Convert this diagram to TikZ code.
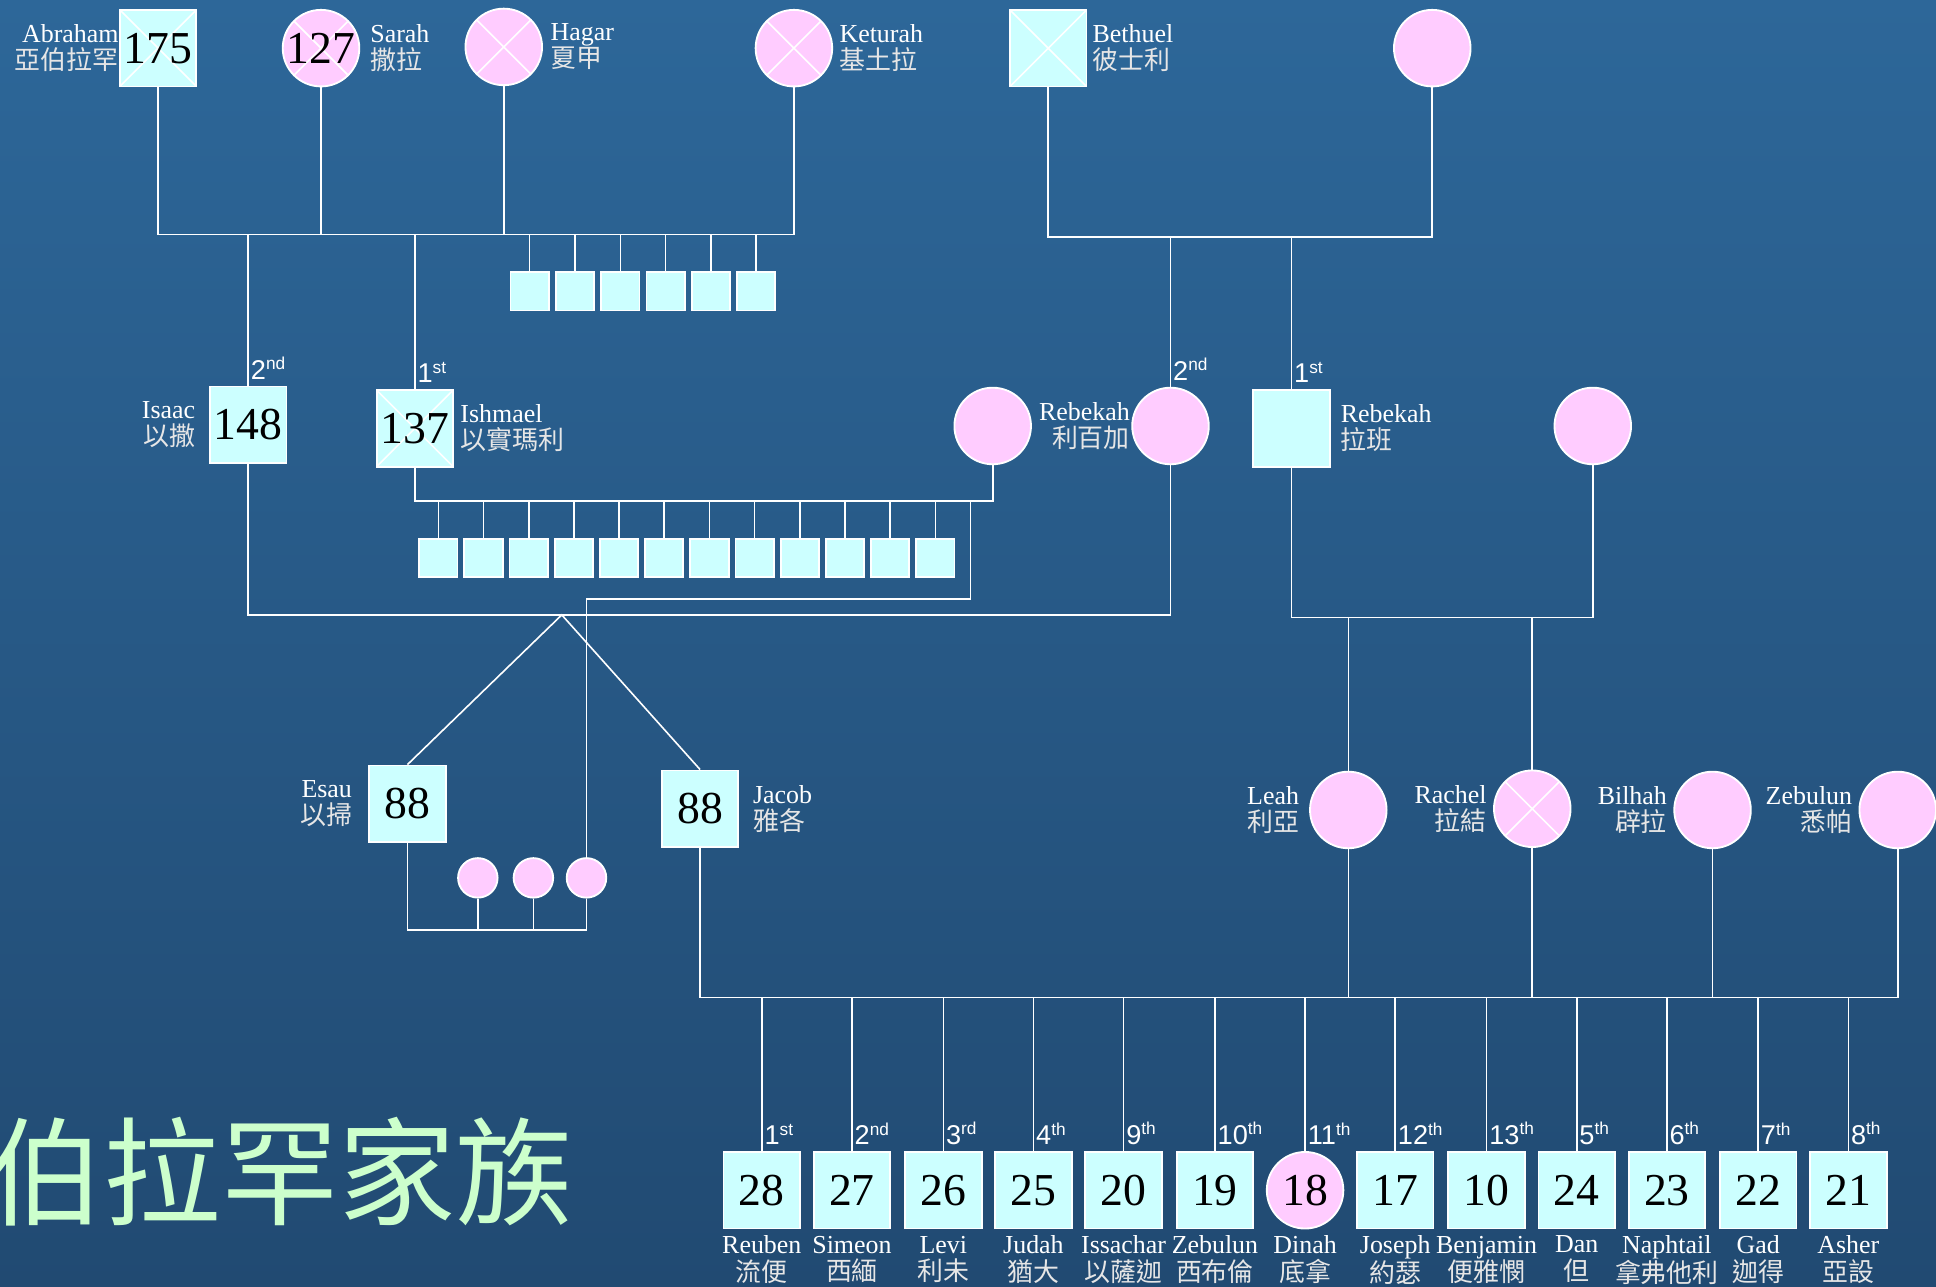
\documentclass[tikz,border=0pt]{standalone}
\usepackage{fontspec}
\setmainfont{Liberation Serif}
\newfontfamily\cjk{Noto Sans CJK TC}
\newfontfamily\ordsans{Liberation Sans}
\usetikzlibrary{positioning}
\definecolor{bgtop}{HTML}{2D6799}
\definecolor{bgbot}{HTML}{214A72}
\definecolor{boxc}{HTML}{CCFFFF}
\definecolor{pinkc}{HTML}{FFCCFF}
\definecolor{titlec}{HTML}{CCFFCC}
\definecolor{cjkgray}{HTML}{E6E6E6}
\newcommand{\pname}[2]{#1\\{\cjk\color{cjkgray}#2}}
\newcommand{\ordn}[2]{#1\raisebox{0.35em}{\fontsize{14}{14}\selectfont#2}}

\begin{document}
\begin{tikzpicture}[x=1pt,y=-1pt,
    male/.style={draw=white,line width=1.5pt,fill=boxc,minimum size=62pt,inner sep=0pt,font=\fontsize{37}{37}\selectfont},
    female/.style={male,circle,fill=pinkc},
    dead/.style={path picture={\draw[white,line width=1.3pt] (path picture bounding box.north west) -- (path picture bounding box.south east) (path picture bounding box.north east) -- (path picture bounding box.south west);}},
    kid/.style={male,minimum size=31pt},
    wife/.style={female,minimum size=32pt},
    kin/.style={white,line width=1.3pt},
    who/.style={text=white,inner sep=0pt,font=\fontsize{21}{22}\selectfont},
    ord/.style={text=white,inner sep=0pt,anchor=south west,xshift=2pt,font=\ordsans\fontsize{22}{22}\selectfont},
    label distance=5pt]
  \useasboundingbox (0,0) rectangle (1568,1042);
  \shade[top color=bgtop,bottom color=bgbot] (0,0) rectangle (1568,1042);

  % Abraham, his wives, Bethuel
  \node[male,dead,label={[who,align=right,xshift=5pt]left:\pname{Abraham}{亞伯拉罕}}] (abr) at (128,39) {175};
  \node[female,dead,label={[who,align=left,xshift=3pt]right:\pname{Sarah}{撒拉}}] (sar) at (260,39) {127};
  \node[female,dead,label={[who,align=left,xshift=1pt]right:\pname{Hagar}{夏甲}}] (hag) at (408,38) {};
  \node[female,dead,label={[who,align=left]right:\pname{Keturah}{基土拉}}] (ket) at (643,39) {};
  \node[male,dead,label={[who,align=left,xshift=-1pt]right:\pname{Bethuel}{彼士利}}] (bet) at (849,39) {};
  \node[female] (betw) at (1160,39) {};

  % second generation
  \node[male,label={[who,align=right,xshift=-6pt]left:\pname{Isaac}{以撒}},label={[ord]above:\ordn{2}{nd}}] (isa) at (201,344) {148};
  \node[male,dead,label={[who,align=left]right:\pname{Ishmael}{以實瑪利}},label={[ord]above:\ordn{1}{st}}] (ish) at (336,347) {137};
  \node[female] (ishw) at (804,345) {};
  \node[female,label={[who,align=right,xshift=4pt]left:\pname{Rebekah}{利百加}},label={[ord]above:\ordn{2}{nd}}] (reb) at (948,345) {};
  \node[male,label={[who,align=left,xshift=3pt]right:\pname{Rebekah}{拉班}},label={[ord]above:\ordn{1}{st}}] (lab) at (1046,347) {};
  \node[female] (labw) at (1290,345) {};
  \foreach \i in {1,...,6}
    \node[kid] (k\i) at ({429+36.7*(\i-1)},236) {};
  \foreach \i in {1,...,12}
    \node[kid] (j\i) at ({355+36.6*(\i-1)},452) {};

  % Esau, Jacob and their wives
  \node[male,label={[who,align=right,xshift=-8pt]left:\pname{Esau}{以掃}}] (esau) at (330,651) {88};
  \node[male,label={[who,align=left,xshift=6pt]right:\pname{Jacob}{雅各}}] (jac) at (567,655) {88};
  \node[wife] (ew1) at (387,711) {};
  \node[wife] (ew2) at (432,711) {};
  \node[wife] (ew3) at (475,711) {};
  \node[female,label={[who,align=right,xshift=-3pt]left:\pname{Leah}{利亞}}] (leah) at (1092,656) {};
  \node[female,dead,label={[who,align=right]left:\pname{Rachel}{拉結}}] (rach) at (1241,655) {};
  \node[female,label={[who,align=right]left:\pname{Bilhah}{辟拉}}] (bil) at (1387,656) {};
  \node[female,label={[who,align=right]left:\pname{Zebulun}{悉帕}}] (zil) at (1537,656) {};

  % Jacob's children
  \node[male,label={[ord]above:\ordn{1}{st}},label={[who,align=center]below:\pname{Reuben}{流便}}] (c1) at (617,964) {28};
  \node[male,label={[ord]above:\ordn{2}{nd}},label={[who,align=center]below:\pname{Simeon}{西緬}}] (c2) at (690,964) {27};
  \node[male,label={[ord]above:\ordn{3}{rd}},label={[who,align=center]below:\pname{Levi}{利未}}] (c3) at (764,964) {26};
  \node[male,label={[ord]above:\ordn{4}{th}},label={[who,align=center]below:\pname{Judah}{猶大}}] (c4) at (837,964) {25};
  \node[male,label={[ord]above:\ordn{9}{th}},label={[who,align=center]below:\pname{Issachar}{以薩迦}}] (c5) at (910,964) {20};
  \node[male,label={[ord]above:\ordn{10}{th}},label={[who,align=center]below:\pname{Zebulun}{西布倫}}] (c6) at (984,964) {19};
  \node[female,label={[ord]above:\ordn{11}{th}},label={[who,align=center]below:\pname{Dinah}{底拿}}] (c7) at (1057,964) {18};
  \node[male,label={[ord]above:\ordn{12}{th}},label={[who,align=center]below:\pname{Joseph}{約瑟}}] (c8) at (1130,964) {17};
  \node[male,label={[ord]above:\ordn{13}{th}},label={[who,align=center]below:\pname{Benjamin}{便雅憫}}] (c9) at (1204,964) {10};
  \node[male,label={[ord]above:\ordn{5}{th}},label={[who,align=center]below:\pname{Dan}{但}}] (c10) at (1277,964) {24};
  \node[male,label={[ord]above:\ordn{6}{th}},label={[who,align=center]below:\pname{Naphtail}{拿弗他利}}] (c11) at (1350,964) {23};
  \node[male,label={[ord]above:\ordn{7}{th}},label={[who,align=center]below:\pname{Gad}{迦得}}] (c12) at (1424,964) {22};
  \node[male,label={[ord]above:\ordn{8}{th}},label={[who,align=center]below:\pname{Asher}{亞設}}] (c13) at (1497,964) {21};

  \node[anchor=base west,inner sep=0pt,text=titlec,font=\cjk\fontsize{95}{95}\selectfont] (title) at (-11,985) {伯拉罕家族};

  % Abraham's lines
  \coordinate (busA) at (0,190);
  \draw[kin] (abr.south) -- (abr.south |- busA) -- (ket.south |- busA) -- (ket.south);
  \draw[kin] (sar.south) -- (sar.south |- busA);
  \draw[kin] (hag.south) -- (hag.south |- busA);
  \draw[kin] (isa.north) -- (isa.north |- busA);
  \draw[kin] (ish.north) -- (ish.north |- busA);
  \foreach \i in {1,...,6}
    \draw[kin] (k\i.north) -- (k\i.north |- busA);

  % Bethuel's lines
  \coordinate (busB) at (0,192);
  \draw[kin] (bet.south) -- (bet.south |- busB) -- (betw.south |- busB) -- (betw.south);
  \draw[kin] (reb.north) -- (reb.north |- busB);
  \draw[kin] (lab.north) -- (lab.north |- busB);

  % Ishmael's lines
  \coordinate (busI) at (0,406);
  \draw[kin] (ish.south) -- (ish.south |- busI) -- (ishw.south |- busI) -- (ishw.south);
  \foreach \i in {1,...,12}
    \draw[kin] (j\i.north) -- (j\i.north |- busI);
  \coordinate (dau) at (786,406);
  \coordinate (dauknee) at (786,485);
  \draw[kin] (dau) -- (dauknee) -| (ew3.north);

  % Isaac's lines
  \coordinate (busC) at (0,498);
  \draw[kin] (isa.south) -- (isa.south |- busC) -- (reb.south |- busC) -- (reb.south);
  \coordinate (fork) at (455,498);
  \draw[kin] (esau.north) -- (fork) -- (jac.north);

  % Esau's lines
  \coordinate (busE) at (0,753);
  \draw[kin] (esau.south) -- (esau.south |- busE) -- (ew3.south |- busE) -- (ew3.south);
  \draw[kin] (ew1.south) -- (ew1.south |- busE);
  \draw[kin] (ew2.south) -- (ew2.south |- busE);

  % Laban's lines
  \coordinate (busL) at (0,500);
  \draw[kin] (lab.south) -- (lab.south |- busL) -- (labw.south |- busL) -- (labw.south);
  \draw[kin] (leah.north) -- (leah.north |- busL);
  \draw[kin] (rach.north) -- (rach.north |- busL);

  % Jacob's lines
  \coordinate (busJ) at (0,808);
  \draw[kin] (jac.south) -- (jac.south |- busJ) -- (zil.south |- busJ) -- (zil.south);
  \foreach \n in {leah,rach,bil}
    \draw[kin] (\n.south) -- (\n.south |- busJ);
  \foreach \i in {1,...,13}
    \draw[kin] (c\i.north) -- (c\i.north |- busJ);
\end{tikzpicture}
\end{document}
